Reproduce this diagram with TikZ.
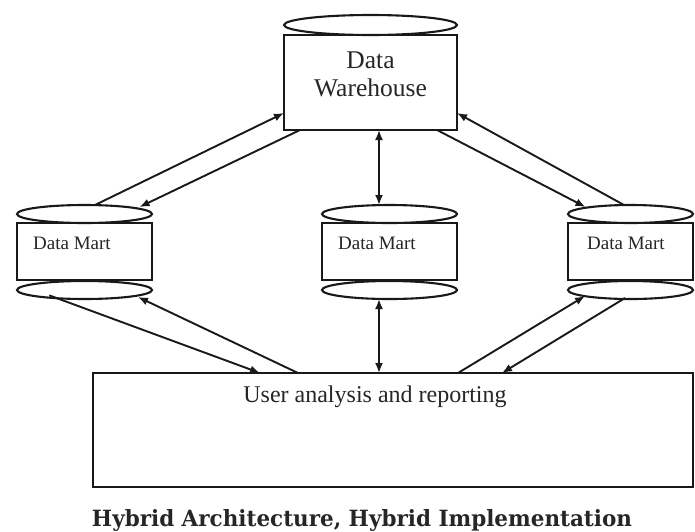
\documentclass[tikz,border=0pt]{standalone}
\usepackage{fontspec}
\setmainfont{Liberation Serif}
\newfontfamily\capfont{DejaVu Serif}
\usetikzlibrary{arrows.meta,shapes.geometric,calc}

\tikzset{
  outline/.style={draw=black!90, line width=2.1pt},
  box/.style={outline, rectangle, fill=white, inner sep=0pt, outer sep=0pt},
  lid/.style={outline, ellipse, fill=white, inner sep=0pt, outer sep=0pt},
  arr/.style={draw=black!90, line width=1.9pt, -{Latex[length=10pt,width=8pt]}},
  biarr/.style={draw=black!90, line width=1.9pt, {Latex[length=10pt,width=8pt]}-{Latex[length=10pt,width=8pt]}},
  whtext/.style={font=\fontsize{25.5}{28}\selectfont, text=black!85},
  dmtext/.style={font=\fontsize{19}{21}\selectfont, text=black!85, anchor=west, inner sep=0pt},
  uatext/.style={font=\fontsize{24}{26}\selectfont, text=black!85},
}

\begin{document}
\begin{tikzpicture}[x=1pt, y=-1pt]
  \useasboundingbox (0,0) rectangle (695,531);

  % central warehouse: box with its lid
  \node[box, minimum width=173pt, minimum height=95pt] (wh) at (370.5,82.5) {};
  \node[lid, minimum width=173pt, minimum height=20pt] (whtop) at (370.5,25) {};
  \node[whtext] (whlabel1) at (370.5,60) {Data};
  \node[whtext] (whlabel2) at (370.5,88) {Warehouse};

  % three data marts: box with a lid above and a base below
  \foreach \name/\cx/\w in {dma/84.5/135, dmb/389.5/135, dmc/630.5/125} {
    \node[box, minimum width=\w pt, minimum height=57pt] (\name) at (\cx,251.5) {};
    \node[lid, minimum width=\w pt, minimum height=18pt] (\name top) at (\cx,214) {};
    \node[lid, minimum width=\w pt, minimum height=18pt] (\name bot) at (\cx,290) {};
  }
  \node[dmtext] (dmalabel) at (33,243) {Data Mart};
  \node[dmtext] (dmblabel) at (338,243) {Data Mart};
  \node[dmtext] (dmclabel) at (587,243) {Data Mart};

  % reporting layer
  \node[box, minimum width=600pt, minimum height=114pt] (ua) at (393,430) {};
  \node[uatext] (ualabel) at (375,397) {User analysis and reporting};

  % warehouse <-> left mart
  \draw[arr] ([xshift=10.5pt]dmatop.north) -- ([yshift=-30.5pt]wh.west);
  \draw[arr] ([xshift=16pt]wh.south west) -- ([xshift=55pt,yshift=-2pt]dmatop.north);
  % warehouse <-> right mart
  \draw[arr] ([xshift=-6.5pt]dmctop.north) -- ([yshift=-30.5pt]wh.east);
  \draw[arr] ([xshift=-20pt]wh.south east) -- ([xshift=-45pt,yshift=-2pt]dmctop.north);
  % warehouse <-> middle mart
  \draw[biarr] ([xshift=8.5pt]wh.south) -- ([xshift=-10.5pt]dmbtop.north);
  % middle mart <-> reporting
  \draw[biarr] ([xshift=-10.5pt]dmbbot.south) -- ([xshift=-14pt]ua.north);
  % left mart <-> reporting
  \draw[arr] ([xshift=12.5pt,yshift=1pt]dmabot.south west) -- ([xshift=-133pt]ua.north);
  \draw[arr] ([xshift=-95pt]ua.north) -- ([xshift=53.5pt,yshift=2pt]dmabot.south);
  % right mart <-> reporting
  \draw[arr] ([xshift=65pt]ua.north) -- ([xshift=-45.5pt,yshift=3pt]dmcbot.south);
  \draw[arr] ([xshift=-5.5pt,yshift=1pt]dmcbot.south) -- ([xshift=109pt]ua.north);

  % caption
  \node[font=\capfont\bfseries, text=black!85, anchor=base, inner sep=0pt] (caption) at (362,526)
    {\resizebox{540pt}{17pt}{Hybrid Architecture, Hybrid Implementation}};
\end{tikzpicture}
\end{document}
